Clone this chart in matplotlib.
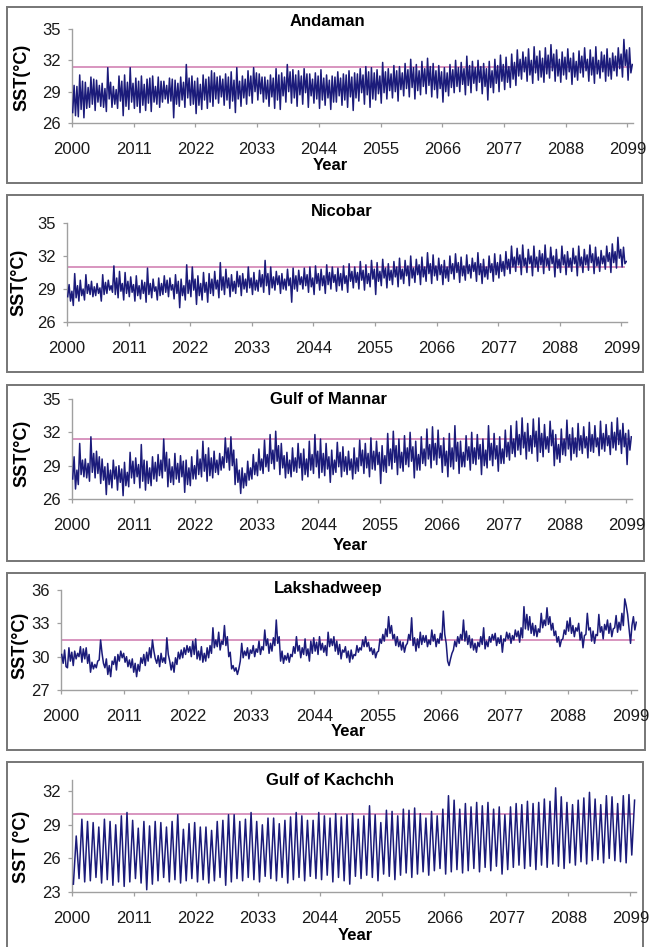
import numpy as np
import matplotlib
matplotlib.use('Agg')
import matplotlib.pyplot as plt
from matplotlib.patches import Rectangle

plt.rcParams['font.family'] = ['Liberation Sans', 'DejaVu Sans']

years = np.arange(2000, 2100)
tick_years = [2000, 2011, 2022, 2033, 2044, 2055, 2066, 2077, 2088, 2099]
tick_labels = [str(y) for y in tick_years]

# Monthly-ish SST readings (4 per year: trough, peak, trough, peak)
andaman = [
    27.0,29.6,26.7,29.5, 26.6,30.6,27.3,30.0, 26.5,29.9,27.4,29.4, 27.5,30.4,27.8,30.2, 27.2,30.1,28.0,29.6,
    27.6,29.8,27.5,29.3, 27.1,31.3,28.3,29.9, 27.5,29.5,27.8,29.2, 27.4,30.5,28.1,30.0, 26.7,30.6,27.6,29.9,
    27.3,31.3,28.0,29.8, 27.4,30.3,27.6,30.0, 27.0,30.5,27.7,29.7, 27.2,30.2,27.9,30.3, 27.1,30.5,28.0,29.5,
    27.8,30.4,27.5,30.0, 28.0,30.0,28.3,29.6, 27.9,30.3,28.1,30.2, 26.5,30.1,27.8,29.8, 27.6,30.4,28.2,29.9,
    27.5,31.6,28.4,30.3, 27.7,30.5,27.8,30.0, 26.9,30.3,27.7,29.7, 27.3,30.6,28.2,30.2, 27.4,30.4,28.0,31.0,
    27.6,30.8,28.3,30.4, 27.9,30.5,28.5,30.2, 27.7,30.7,28.2,30.4, 27.4,30.9,28.1,30.1, 27.0,31.3,28.3,30.0,
    27.6,30.5,28.4,30.2, 27.8,31.0,28.6,30.5, 27.9,31.3,29.0,30.8, 28.2,30.7,28.8,30.4, 28.0,30.4,28.3,30.1,
    27.6,30.6,28.5,30.3, 27.4,31.2,28.2,30.6, 27.3,30.8,28.6,30.4, 28.0,31.6,29.0,30.9, 27.9,31.1,28.4,30.6,
    27.6,31.0,28.7,30.5, 27.8,31.2,28.9,30.7, 27.5,30.7,28.6,30.2, 27.9,30.8,28.3,30.5, 27.4,31.1,28.2,30.3,
    27.7,30.6,28.4,30.1, 27.3,30.5,28.0,30.4, 28.0,30.9,28.6,30.3, 27.7,30.7,28.2,30.6, 27.5,31.0,28.5,30.4,
    27.2,30.8,28.4,30.7, 28.1,31.2,28.9,30.6, 27.8,31.4,28.7,30.9, 27.5,31.3,28.3,30.8, 28.2,31.1,28.8,30.5,
    27.9,31.8,28.9,30.9, 28.3,31.2,29.1,30.7, 28.4,31.5,29.0,31.0, 28.1,31.4,29.2,30.8, 28.6,31.7,29.3,31.1,
    28.5,32.1,29.4,31.3, 28.3,31.6,29.1,31.0, 28.7,31.9,29.5,31.2, 28.8,32.2,29.6,31.4, 28.5,31.7,29.2,31.0,
    28.4,31.5,29.3,30.9, 28.0,31.3,29.0,30.8, 28.6,31.6,29.4,31.1, 28.9,32.0,29.5,31.3, 29.0,31.8,29.7,31.2,
    28.7,32.4,29.6,31.5, 28.9,31.9,29.8,31.3, 29.1,32.0,29.9,31.4, 28.8,31.7,29.5,31.2, 28.2,31.9,29.4,31.0,
    28.9,32.1,29.8,31.5, 29.0,32.5,30.0,31.6, 29.2,32.3,29.9,31.4, 29.4,32.6,30.2,31.8, 29.6,33.0,30.5,32.1,
    30.2,32.8,30.9,32.3, 30.0,33.1,30.6,32.0, 29.8,33.3,30.8,32.4, 30.1,32.9,30.4,32.2, 29.9,33.2,30.7,32.5,
    30.3,33.5,31.0,32.6, 30.0,33.0,30.5,32.1, 29.9,32.8,30.6,32.3, 30.2,33.1,30.9,32.2, 29.7,32.7,30.4,31.9,
    30.1,32.9,30.8,32.4, 30.4,33.2,31.0,32.1, 30.0,33.0,30.6,32.3, 29.8,33.3,30.7,32.0, 30.3,32.8,30.9,32.5,
    30.0,33.1,30.5,32.2, 30.2,32.7,31.0,32.4, 30.5,33.2,31.2,32.6, 30.4,34.0,31.5,33.0, 30.1,33.2,30.8,31.6,
]

nicobar = [
    28.3,29.4,27.9,28.8, 27.5,30.4,28.2,29.3, 27.9,29.8,28.4,29.0, 28.0,30.3,28.6,29.4, 28.5,29.7,28.3,29.2,
    28.4,29.5,28.6,29.1, 27.9,30.3,28.5,29.6, 28.6,29.8,28.9,29.3, 28.7,31.1,28.5,30.0, 28.2,30.6,28.8,29.5,
    28.0,30.5,28.6,29.7, 28.3,30.1,28.7,29.4, 27.9,30.2,28.4,29.3, 28.1,29.8,28.6,29.6, 27.8,30.9,28.5,29.5,
    28.2,29.9,28.8,29.2, 28.0,30.0,28.4,29.5, 28.5,30.2,28.7,29.8, 28.3,30.0,28.9,29.4, 28.1,30.3,28.6,29.7,
    27.3,29.9,28.4,29.3, 28.0,31.2,28.6,29.8, 28.3,31.0,28.9,29.9, 27.6,30.2,28.4,29.5, 28.0,30.5,28.7,29.6,
    27.8,30.4,28.6,29.9, 28.4,30.6,29.0,29.8, 28.2,31.4,28.9,30.1, 28.5,30.8,29.1,30.0, 28.3,30.3,28.8,29.7,
    28.6,30.6,29.2,30.2, 28.4,30.4,29.0,29.9, 28.7,31.0,29.1,30.0, 28.5,30.5,28.9,29.8, 28.8,30.7,29.2,30.3,
    28.7,31.6,29.3,30.4, 28.5,31.0,29.1,30.1, 28.9,30.6,29.4,30.2, 28.6,30.4,29.0,29.9, 28.9,30.8,29.3,30.0,
    27.8,30.9,29.0,30.2, 28.8,30.7,29.4,30.1, 29.0,30.9,29.3,30.3, 28.7,31.0,29.2,30.0, 28.5,31.1,29.5,30.4,
    28.9,30.8,29.3,30.2, 28.6,31.2,29.4,30.5, 29.0,31.0,29.6,30.3, 28.8,30.9,29.3,30.4, 28.9,31.1,29.5,30.2,
    28.7,31.3,29.7,30.6, 29.1,31.0,29.6,30.5, 29.0,31.5,29.8,30.7, 28.9,31.2,29.5,30.4, 29.2,31.6,29.9,30.8,
    28.5,31.4,29.7,30.6, 29.3,31.7,30.0,30.9, 29.1,31.3,29.8,30.7, 29.4,31.5,30.1,31.0, 29.2,31.8,29.9,30.8,
    29.5,31.6,30.2,31.1, 29.3,32.0,30.0,30.9, 29.6,31.7,30.3,31.2, 29.4,31.9,30.1,31.0, 29.7,32.3,30.4,31.3,
    29.5,32.1,30.2,31.1, 29.8,31.8,30.3,31.2, 29.4,31.6,30.0,31.0, 29.7,32.0,30.4,31.3, 29.9,32.2,30.5,31.4,
    29.6,31.9,30.2,31.1, 29.8,32.1,30.4,31.2, 30.0,31.8,30.6,31.4, 29.7,32.3,30.3,31.3, 29.5,31.7,30.1,31.0,
    29.9,32.0,30.5,31.3, 29.7,32.2,30.3,31.4, 30.0,32.1,30.6,31.5, 30.2,32.4,30.8,31.7, 30.4,32.9,31.0,31.9,
    30.6,32.7,31.2,32.1, 30.3,33.0,31.1,31.8, 30.5,32.6,31.3,32.0, 30.2,32.9,31.0,31.9, 30.6,32.5,31.2,32.2,
    30.4,33.0,31.1,31.8, 30.7,32.8,31.3,32.0, 30.1,32.6,30.9,31.7, 30.5,32.9,31.2,32.1, 30.3,32.4,31.0,31.8,
    30.6,32.7,31.3,32.0, 30.2,32.9,31.1,31.9, 30.5,32.6,31.2,32.1, 30.7,33.0,31.4,32.2, 30.4,32.8,31.1,31.9,
    30.6,32.5,31.3,32.0, 30.8,32.9,31.5,32.3, 30.5,33.1,31.4,32.4, 30.9,33.7,31.8,32.6, 31.0,32.8,31.3,31.5,
]

mannar = [
    27.8,29.8,26.9,28.6, 27.3,31.0,28.2,29.5, 28.0,29.6,27.9,29.2, 27.6,31.6,28.4,30.1, 27.9,30.3,28.3,29.8,
    27.4,29.6,27.7,28.9, 26.4,29.2,27.3,28.6, 27.0,29.5,27.8,28.9, 26.8,29.0,27.5,28.7, 26.3,29.3,27.2,28.4,
    27.1,30.2,27.9,29.4, 27.4,29.7,28.0,29.1, 27.0,30.9,27.6,29.5, 26.8,29.4,27.4,28.8, 27.2,29.8,27.8,29.3,
    27.6,30.0,28.1,29.5, 27.9,31.4,28.5,30.2, 27.1,29.6,27.5,28.9, 27.3,30.1,27.8,29.2, 27.5,29.9,28.0,29.4,
    26.6,29.5,27.3,28.8, 27.2,29.8,27.8,29.0, 27.8,30.4,28.2,29.6, 28.0,31.2,28.5,30.0, 27.6,30.6,28.1,29.7,
    27.9,30.3,28.4,29.5, 28.2,30.1,28.6,29.8, 28.8,31.5,29.3,30.6, 28.6,31.6,29.0,30.4, 27.3,29.6,27.5,28.6,
    26.5,28.8,27.0,28.3, 27.2,29.4,27.7,28.8, 27.8,30.0,28.2,29.3, 28.1,30.5,28.6,29.6, 28.3,31.3,28.9,30.0,
    28.5,31.8,29.2,30.4, 28.7,32.1,29.4,30.8, 28.2,31.0,28.8,29.9, 27.9,30.2,28.3,29.5, 28.0,30.6,28.5,29.7,
    28.4,31.0,28.8,30.1, 27.7,30.5,28.2,29.6, 28.0,31.2,28.6,30.0, 28.3,31.8,28.9,30.3, 27.9,31.4,28.4,30.1,
    28.1,31.0,28.7,29.8, 27.5,30.4,28.2,29.5, 28.4,31.1,28.9,30.2, 28.0,30.7,28.5,29.8, 28.2,30.3,28.6,29.6,
    27.8,30.6,28.3,29.7, 28.5,31.3,29.0,30.4, 28.3,31.0,28.8,30.1, 28.0,31.5,28.7,30.3, 28.6,31.2,29.1,30.2,
    27.4,30.8,28.5,29.9, 28.4,31.9,29.0,30.5, 28.7,32.1,29.3,30.8, 28.2,31.4,28.8,30.2, 28.5,31.7,29.1,30.6,
    28.9,32.0,29.4,30.7, 27.9,31.2,28.6,30.0, 28.6,31.6,29.2,30.5, 29.0,32.3,29.6,30.9, 28.8,32.5,29.5,31.0,
    29.1,32.2,29.7,30.8, 28.4,31.5,29.0,30.3, 28.0,31.9,28.9,30.6, 28.7,32.6,29.4,31.1, 28.3,31.2,28.9,30.2,
    28.9,31.7,29.5,30.7, 28.6,32.0,29.2,30.6, 29.1,31.8,29.6,30.9, 28.2,31.4,29.0,30.4, 28.8,32.6,29.5,31.0,
    29.0,31.9,29.6,30.8, 28.5,31.6,29.2,30.5, 29.2,32.2,29.8,31.1, 29.5,32.6,30.1,31.4, 29.8,33.0,30.4,31.8,
    30.0,33.3,30.6,32.0, 29.6,32.8,30.3,31.7, 30.1,33.2,30.7,32.1, 29.4,33.3,30.2,31.9, 29.8,32.7,30.5,31.6,
    30.2,33.0,30.8,32.2, 29.0,31.8,29.6,30.9, 29.3,32.3,30.0,31.4, 29.9,33.1,30.5,31.8, 29.5,32.4,30.1,31.5,
    29.8,32.8,30.4,31.7, 30.1,32.5,30.6,31.6, 29.7,32.9,30.3,31.8, 30.2,32.6,30.7,31.5, 29.9,33.0,30.5,31.9,
    30.3,32.7,30.8,31.7, 30.0,32.9,30.6,32.0, 30.4,33.3,30.9,32.2, 30.1,32.8,30.7,31.9, 29.1,32.2,30.4,31.6,
]

lakshadweep = [
    30.2,29.4,30.6,29.1, 29.0,30.8,29.6,30.4, 29.2,30.5,29.8,30.3, 30.0,30.9,29.5,30.7, 29.8,30.8,29.4,30.2,
    28.6,29.5,28.9,29.3, 29.0,29.6,29.7,31.5, 30.3,29.4,29.0,29.8, 28.4,29.2,28.2,29.6, 29.3,30.0,28.8,30.2,
    29.6,30.5,29.9,30.3, 29.5,30.0,29.1,29.7, 29.0,29.8,28.6,29.4, 28.2,29.3,28.7,29.9, 29.4,30.2,29.2,30.4,
    29.6,30.8,29.9,31.5, 30.5,29.8,29.4,30.1, 29.1,30.3,29.5,29.9, 29.4,31.7,30.2,29.6, 28.8,29.5,28.6,29.9,
    29.3,30.4,29.8,30.6, 29.9,30.8,30.2,31.0, 30.4,30.9,30.0,31.4, 30.2,31.6,29.8,30.5, 29.7,30.9,29.5,30.3,
    29.6,30.8,29.9,31.0, 30.3,32.6,30.8,31.5, 30.9,32.2,30.6,31.4, 31.1,32.8,31.0,31.8, 30.0,30.4,28.9,29.2,
    28.7,29.0,28.4,28.9, 29.6,31.2,29.9,30.5, 30.1,30.8,29.8,30.6, 30.3,31.0,30.0,30.7, 30.4,31.4,30.2,30.9,
    30.6,32.4,31.0,31.6, 30.3,31.2,30.5,31.7, 31.0,33.3,31.2,31.8, 29.6,30.5,29.4,30.1, 29.7,30.3,29.5,30.2,
    30.0,30.9,30.3,31.8, 30.5,31.0,29.9,30.8, 30.2,31.6,30.1,30.7, 29.6,31.4,30.3,31.7, 30.5,31.3,30.2,31.8,
    30.6,31.2,30.4,31.0, 30.1,32.2,30.9,31.6, 31.0,31.8,30.5,31.4, 30.2,31.1,29.8,30.6, 30.4,30.9,29.9,30.5,
    29.5,30.6,29.8,30.2, 30.1,31.0,30.4,30.8, 30.6,31.5,30.9,31.8, 30.9,31.3,30.5,30.8, 30.2,30.7,29.9,30.4,
    30.5,31.6,31.2,32.0, 31.4,32.5,31.8,33.6, 32.1,32.8,31.6,32.0, 31.0,31.8,30.9,31.4, 30.6,31.3,30.4,31.0,
    31.2,32.0,31.5,33.5, 31.0,31.7,30.5,31.6, 30.8,32.2,31.1,31.9, 31.3,31.9,30.9,31.5, 31.1,32.4,31.4,32.0,
    30.9,31.6,31.2,32.1, 31.5,34.1,32.0,31.2, 29.6,29.2,29.8,30.3, 30.6,31.4,30.9,31.8, 31.2,32.0,31.5,33.3,
    31.4,32.3,31.1,31.9, 30.8,31.6,30.6,31.2, 30.4,31.3,30.9,31.8, 31.1,32.6,30.7,31.4, 30.9,31.8,31.3,32.0,
    31.5,32.1,31.0,31.7, 31.2,31.9,30.4,31.6, 31.4,32.2,31.6,32.1, 31.2,31.9,31.5,32.4, 31.8,32.3,31.3,32.6,
    31.7,34.5,32.5,33.8, 32.4,33.6,32.1,33.0, 31.9,32.8,31.8,32.5, 32.2,33.9,32.6,33.3, 32.8,34.4,32.9,33.6,
    32.4,33.0,31.9,32.3, 31.3,31.8,30.9,31.5, 31.6,32.4,32.0,33.2, 32.3,33.5,32.1,32.8, 31.8,32.6,32.3,33.0,
    31.5,32.2,30.8,31.9, 32.0,33.9,32.4,32.6, 31.4,32.3,31.2,32.0, 31.9,33.8,32.2,32.7, 31.6,32.9,32.4,33.3,
    32.1,33.0,31.8,32.5, 32.6,33.7,32.2,33.1, 32.4,33.9,32.8,35.2, 34.6,33.8,32.5,31.2, 32.8,33.6,32.4,33.1,
]

# Gulf of Kachchh: 2 per year (winter minimum, summer maximum)
kachchh = [
    23.7,28.0, 24.2,29.5, 23.9,29.3, 24.0,29.2, 24.3,28.8, 23.8,29.5, 24.1,29.3, 23.6,29.0, 23.9,29.8, 23.5,30.1,
    23.9,29.4, 24.2,28.7, 23.8,29.3, 23.2,28.9, 23.7,29.3, 24.0,29.2, 24.3,28.8, 23.9,29.3, 24.1,29.9, 23.8,28.6,
    24.0,29.1, 24.2,29.2, 23.9,28.8, 24.1,28.8, 23.8,28.5, 24.0,29.3, 24.3,29.4, 23.6,29.9, 23.9,29.9, 24.2,29.3,
    24.0,29.5, 24.3,30.1, 24.1,29.3, 23.9,29.0, 24.4,29.6, 24.2,29.6, 24.0,29.1, 24.3,29.4, 23.8,29.7, 24.1,30.1,
    24.3,29.8, 24.0,29.4, 24.4,29.4, 24.2,30.1, 24.1,29.8, 24.5,29.6, 23.9,30.0, 24.3,29.7, 24.0,29.9, 23.7,30.0,
    24.4,29.5, 24.2,29.8, 24.5,30.7, 24.3,29.9, 24.0,29.2, 24.6,30.3, 24.4,30.2, 24.1,29.8, 24.5,30.4, 24.7,30.3,
    24.3,30.5, 24.6,30.0, 24.8,29.6, 24.5,30.2, 24.9,29.8, 25.1,30.4, 24.6,31.6, 24.8,31.2, 25.0,30.4, 24.7,30.9,
    24.9,30.6, 25.1,31.0, 24.8,30.7, 25.2,31.0, 24.9,30.4, 25.3,30.6, 24.6,29.9, 25.0,30.6, 25.2,30.9, 25.4,30.8,
    25.1,31.1, 25.3,30.9, 25.0,31.0, 25.4,31.3, 25.2,31.1, 25.5,32.3, 25.3,31.5, 25.1,31.0, 25.6,30.8, 25.4,31.2,
    25.7,31.4, 25.5,31.9, 25.8,31.3, 25.9,30.8, 25.6,31.6, 26.0,31.5, 25.8,30.9, 25.7,31.6, 25.6,31.7, 26.3,31.2,
]

W, H = 649, 947
LINE = '#1b1b7a'
REF = '#d68cba'

panels = [
    dict(title='Andaman', data=andaman, n=4, ref=31.4, yticks=[26, 29, 32, 35], ylim=(26, 35),
         box=(7, 7, 642, 183), ax=(72, 29, 633, 123), title_xy=(327, 22),
         ylab='SST(°C)', ylab_xy=(22, 77), year_xy=(330, 165)),
    dict(title='Nicobar', data=nicobar, n=4, ref=31.0, yticks=[26, 29, 32, 35], ylim=(26, 35),
         box=(7, 195, 643, 372), ax=(67, 223, 627, 322), title_xy=(342, 211),
         ylab='SST(°C)', ylab_xy=(19, 282), year_xy=None),
    dict(title='Gulf of Mannar', data=mannar, n=4, ref=31.4, yticks=[26, 29, 32, 35], ylim=(26, 35),
         box=(7, 385, 644, 561), ax=(72, 399, 632, 499), title_xy=(328, 400),
         ylab='SST(°C)', ylab_xy=(22, 453), year_xy=(350, 545)),
    dict(title='Lakshadweep', data=lakshadweep, n=4, ref=31.5, yticks=[27, 30, 33, 36], ylim=(27, 36),
         box=(7, 573, 645, 750), ax=(61, 590, 637, 690), title_xy=(328, 588),
         ylab='SST(°C)', ylab_xy=(20, 645), year_xy=(348, 732)),
    dict(title='Gulf of Kachchh', data=kachchh, n=2, ref=30.0, yticks=[23, 26, 29, 32], ylim=(23, 33),
         box=(7, 762, 643, 960), ax=(72, 780, 636, 892), title_xy=(330, 780),
         ylab='SST (°C)', ylab_xy=(22, 847), year_xy=(355, 935)),
]

fig = plt.figure(figsize=(W / 100, H / 100), dpi=100)
fig.patch.set_facecolor('white')


def fx(px):
    return px / W


def fy(py):
    return 1 - py / H


for p in panels:
    bx0, by0, bx1, by1 = p['box']
    fig.add_artist(Rectangle((fx(bx0), fy(by1)), fx(bx1 - bx0), (by1 - by0) / H,
                             transform=fig.transFigure, fill=False,
                             edgecolor='#767676', linewidth=1.4, zorder=0))
    x0, y0, x1, y1 = p['ax']
    ax = fig.add_axes([fx(x0), fy(y1), fx(x1 - x0), (y1 - y0) / H])
    ax.patch.set_alpha(0)
    n = p['n']
    xs = (years[:, None] + (np.arange(n) + 0.5) / n).ravel()
    ax.plot(xs, np.asarray(p['data']), color=LINE, linewidth=1.1, zorder=3)
    ax.axhline(p['ref'], xmin=0, xmax=0.995, color=REF, linewidth=1.3, zorder=2)
    ax.set_xlim(2000, 2100)
    ax.set_ylim(*p['ylim'])
    ax.set_xticks(tick_years)
    ax.set_xticklabels(tick_labels)
    ax.set_yticks(p['yticks'])
    for s in ('top', 'right'):
        ax.spines[s].set_visible(False)
    for s in ('left', 'bottom'):
        ax.spines[s].set_color('#a0a0a0')
        ax.spines[s].set_linewidth(1.0)
    ax.tick_params(axis='both', direction='out', length=3, width=0.9, color='#a0a0a0',
                   labelsize=12, labelcolor='#1a1a1a')
    ax.tick_params(axis='x', pad=11)
    ax.tick_params(axis='y', pad=5)
    tx, ty = p['title_xy']
    fig.text(fx(tx), fy(ty), p['title'], ha='center', va='center',
             fontsize=12, fontweight='bold')
    lx, ly = p['ylab_xy']
    fig.text(fx(lx), fy(ly), p['ylab'], ha='center', va='center', rotation=90,
             fontsize=13, fontweight='bold')
    if p['year_xy'] is not None:
        yx, yy = p['year_xy']
        fig.text(fx(yx), fy(yy), 'Year', ha='center', va='center',
                 fontsize=12, fontweight='bold')

fig.savefig('out.png', dpi=100, facecolor='white')
